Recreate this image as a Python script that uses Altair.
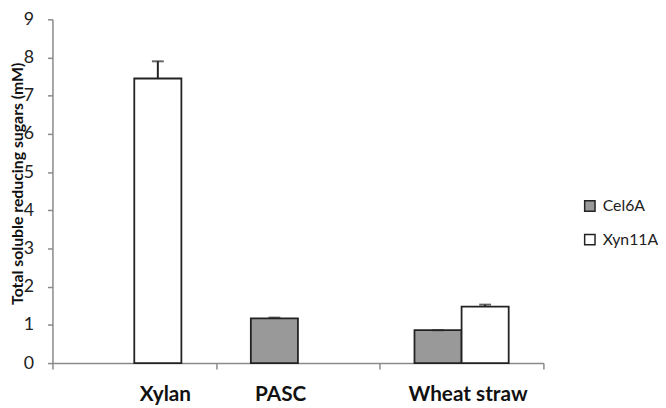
import altair as alt
import pandas as pd

categories = ["Xylan", "PASC", "Wheat straw"]
enzymes = ["Cel6A", "Xyn11A"]
bar_category = ["Xylan", "PASC", "Wheat straw", "Wheat straw"]
bar_enzyme = ["Xyn11A", "Cel6A", "Cel6A", "Xyn11A"]
bar_value = [7.45, 1.17, 0.86, 1.48]
bar_error = [0.45, 0.02, 0.0, 0.05]
y_ticks = list(range(0, 10))

df = pd.DataFrame({
    "category": bar_category,
    "enzyme": bar_enzyme,
    "value": bar_value,
    "err": bar_error,
})
df["top"] = df["value"] + df["err"]

FONT = "Lato"
AX = "#8a8a8a"

x_enc = alt.X(
    "category:N",
    sort=categories,
    scale=alt.Scale(domain=categories, paddingInner=0, paddingOuter=0),
    axis=alt.Axis(
        title=None, labelFont=FONT, labelFontWeight="bold", labelFontSize=21,
        labelColor="#111", labelAngle=0, labelPadding=15, tickBand="extent",
        tickSize=6, tickColor=AX, domainColor=AX, tickWidth=1.5, domainWidth=1.5,
        labelOffset={
            "condition": [
                {"test": "datum.value === 'Xylan'", "value": 31},
                {"test": "datum.value === 'PASC'", "value": -18},
            ],
            "value": 6,
        },
    ),
)
xo_enc = alt.XOffset(
    "enzyme:N",
    scale=alt.Scale(domain=enzymes, paddingInner=0, paddingOuter=0.737),
)
y_scale = alt.Scale(domain=[0, 9], nice=False)
y_axis = alt.Axis(
    values=y_ticks, grid=False, title="Total soluble  reducing sugars (mM)",
    titleFont=FONT, titleFontWeight="bold", titleFontSize=16, titleColor="#111",
    titleX=-35, titleY=166, titleAngle=-90, titleAlign="center", titleBaseline="middle",
    labelFont=FONT, labelFontSize=18, labelColor="#222", labelPadding=14,
    tickSize=5, tickColor=AX, domainColor=AX, tickWidth=1.5, domainWidth=1.5,
)

bars = alt.Chart(df).mark_bar(stroke="#222", strokeWidth=1.8).encode(
    x=x_enc,
    xOffset=xo_enc,
    y=alt.Y("value:Q", scale=y_scale, axis=y_axis),
    fill=alt.Fill(
        "enzyme:N",
        scale=alt.Scale(domain=enzymes, range=["#999999", "#ffffff"]),
        legend=alt.Legend(
            title=None, orient="none", legendX=536, legendY=181,
            symbolType="square", symbolSize=110, symbolStrokeColor="#222",
            symbolStrokeWidth=1.5, labelFont=FONT, labelFontSize=16,
            labelColor="#222", rowPadding=16, labelOffset=5, padding=0,
        ),
    ),
)

err_line = alt.Chart(df).mark_rule(color="#222", strokeWidth=2).encode(
    x=x_enc,
    xOffset=xo_enc,
    y=alt.Y("value:Q", scale=y_scale, axis=y_axis),
    y2="top:Q",
)

err_cap = alt.Chart(df).mark_tick(color="#222", thickness=2, size=12).encode(
    x=x_enc,
    xOffset=xo_enc,
    y=alt.Y("top:Q", scale=y_scale, axis=y_axis),
)

chart = (
    alt.layer(bars, err_line, err_cap)
    .properties(
        width=497, height=348,
        autosize=alt.AutoSizeParams(type="none"),
        padding={"left": 45, "top": 9, "right": 116, "bottom": 40},
    )
    .configure_view(stroke=None)
)

chart.save("out.html", embed_options={"renderer": "svg", "actions": False})
